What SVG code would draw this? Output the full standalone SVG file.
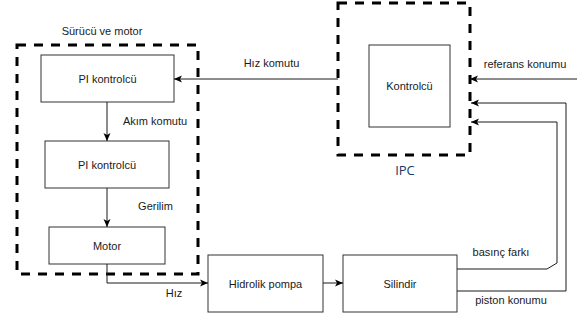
<svg xmlns="http://www.w3.org/2000/svg" width="577" height="320" viewBox="0 0 577 320">
<style>
.box{fill:#fff;stroke:#333;stroke-width:1}
.grp{fill:none;stroke:#000;stroke-width:3;stroke-dasharray:9 8}
.t{font-family:"Liberation Sans",Arial,sans-serif;font-size:11px;fill:#1a1a1a;text-anchor:middle}
.c{fill:none;stroke:#1a1a1a;stroke-width:1}
</style>
<defs>
<marker id="ah" markerWidth="9" markerHeight="8" refX="8" refY="4" orient="auto" markerUnits="userSpaceOnUse">
<path d="M0,0.5 L8,4 L0,7.5 L2,4 z" fill="#000"/>
</marker>
</defs>
<rect width="577" height="320" fill="#fff"/>
<g id="surucu-grup">
<rect class="grp" x="17" y="45" width="181" height="229"/>
<text class="t" x="102" y="35">Sürücü ve motor</text>
</g>
<g id="ipc-grup">
<rect class="grp" x="338" y="3" width="132" height="152"/>
<text x="405" y="175" style="font-family:'Open Sans','Liberation Sans',sans-serif;font-size:13px;fill:#203864;text-anchor:middle">IPC</text>
</g>
<g id="pi1"><rect class="box" x="41" y="55" width="133" height="47"/><text class="t" x="107.5" y="82.5">PI kontrolcü</text></g>
<g id="pi2"><rect class="box" x="45" y="141" width="124" height="47"/><text class="t" x="107" y="168.5">PI kontrolcü</text></g>
<g id="motor"><rect class="box" x="49" y="227" width="116" height="37"/><text class="t" x="107" y="249.5">Motor</text></g>
<g id="pompa"><rect class="box" x="208" y="255" width="115" height="57"/><text class="t" x="265.5" y="287.5">Hidrolik pompa</text></g>
<g id="silindir"><rect class="box" x="343" y="255" width="114" height="57"/><text class="t" x="400" y="287.5">Silindir</text></g>
<g id="kontrolcu"><rect class="box" x="369" y="45" width="81" height="82"/><text class="t" x="409.5" y="90">Kontrolcü</text></g>
<g id="connectors">
<path class="c" d="M338,79 H174" marker-end="url(#ah)"/>
<path class="c" d="M107,102 V141" marker-end="url(#ah)"/>
<path class="c" d="M107,188 V227" marker-end="url(#ah)"/>
<path class="c" d="M107,264 V283 H208" marker-end="url(#ah)"/>
<path class="c" d="M323,283 H343" marker-end="url(#ah)"/>
<path class="c" d="M577,79 H470" marker-end="url(#ah)"/>
<path class="c" d="M457,291 H566 V103 H471" marker-end="url(#ah)"/>
<path class="c" d="M457,269 H547 L557,263 V122 H471" marker-end="url(#ah)"/>
<text class="t" x="155" y="125">Akım komutu</text>
<text class="t" x="155.5" y="210">Gerilim</text>
<text class="t" x="174" y="297">Hız</text>
<text class="t" x="271.5" y="67">Hız komutu</text>
<text class="t" x="525" y="68">referans konumu</text>
<text class="t" x="501" y="256">basınç farkı</text>
<text class="t" x="511" y="304">piston konumu</text>
</g>
</svg>
